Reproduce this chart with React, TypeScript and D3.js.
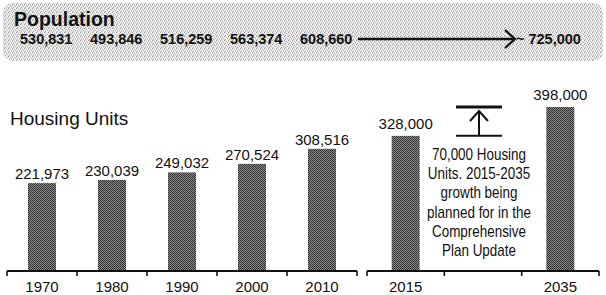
import * as d3 from 'd3';

// population row (top banner)
const popYears = ['1970', '1980', '1990', '2000', '2010'];
const popValues = [530831, 493846, 516259, 563374, 608660];
const popProjection = 725000;

// housing units, historic
const houseYears = ['1970', '1980', '1990', '2000', '2010'];
const houseValues = [221973, 230039, 249032, 270524, 308516];

// housing units, plan horizon
const planYears = ['2015', '2035'];
const planValues = [328000, 398000];
const noteLines = [
  '70,000 Housing',
  'Units. 2015-2035',
  'growth being',
  'planned for in the',
  'Comprehensive',
  'Plan Update',
];

const W = 606, H = 295;
const base = 271;
const fmt = d3.format(',');
const sans = 'Liberation Sans, Arial, sans-serif';

export default function App() {
  const xL = d3.scaleBand().domain(houseYears).range([7, 357]);
  const xR = d3.scaleBand().domain([planYears[0], 'gap', planYears[1]]).range([367, 599]);
  const yL = d3.scaleLinear().domain([0, 400000]).range([base, base - 158.4]);
  const yR = d3.scaleLinear().domain([0, 400000]).range([base, base - 164.8]);
  const barW = 28;

  const axis = (x: d3.ScaleBand<string>) => {
    const [a, b] = x.range();
    const edges = x.domain().map((d) => x(d) as number).concat([b]);
    return (
      <g>
        <line x1={a} x2={b} y1={base} y2={base} stroke="#111" strokeWidth={2} />
        {edges.map((e, i) => (
          <line key={i} x1={e} x2={e} y1={base} y2={base + 5} stroke="#111" strokeWidth={1.6} />
        ))}
      </g>
    );
  };

  const noteX = (xR('gap') as number) + xR.bandwidth() / 2 - 4;
  const topY = yR(planValues[1]);
  const botY = yR(planValues[0]);
  const popY = 44;
  const arrowStart = 358;
  const arrowTip = 515;

  return (
    <svg width={W} height={H} style={{ position: 'absolute', left: 0, top: 0, background: '#fff' }}>
      <defs>
        <pattern id="stipple" width="4" height="4" patternUnits="userSpaceOnUse">
          <rect width="4" height="4" fill="#e6e6e6" />
          <rect x="0" y="0" width="1" height="1" fill="#9a9a9a" />
          <rect x="2" y="1" width="1" height="1" fill="#b4b4b4" />
          <rect x="1" y="3" width="1" height="1" fill="#a2a2a2" />
          <rect x="3" y="2" width="1" height="1" fill="#c0c0c0" />
          <rect x="3" y="0" width="1" height="1" fill="#f8f8f8" />
          <rect x="1" y="1" width="1" height="1" fill="#f6f6f6" />
          <rect x="2" y="3" width="1" height="1" fill="#f6f6f6" />
        </pattern>
        <pattern id="dark" width="2" height="2" patternUnits="userSpaceOnUse">
          <rect width="2" height="2" fill="#8a8a8a" />
          <rect x="0" y="0" width="1" height="1" fill="#2a2a2a" />
          <rect x="1" y="1" width="1" height="1" fill="#383838" />
        </pattern>
      </defs>

      {/* population banner */}
      <rect x={3} y={3} width={600} height={58} rx={10} fill="url(#stipple)" />
      <text x={14} y={26} fontFamily={sans} fontWeight="bold" fontSize={19.5} fill="#111">Population</text>
      {popYears.map((yr, i) => (
        <text key={yr} x={(xL(yr) as number) + 13} y={popY} fontFamily={sans} fontWeight="bold" fontSize={14.5} fill="#111">
          {fmt(popValues[i])}
        </text>
      ))}
      <line x1={arrowStart} x2={arrowTip - 1} y1={popY - 5} y2={popY - 5} stroke="#111" strokeWidth={2.4} />
      <polyline points={`${arrowTip - 10},${popY - 14} ${arrowTip},${popY - 5} ${arrowTip - 10},${popY + 4}`} fill="none" stroke="#111" strokeWidth={2.2} />
      <text x={arrowTip + 1} y={popY} fontFamily={sans} fontWeight="bold" fontSize={14.5} fill="#111">
        {'~ ' + fmt(popProjection)}
      </text>

      {/* housing units */}
      <text x={10} y={125} fontFamily={sans} fontSize={19} fill="#111">Housing Units</text>

      {houseYears.map((yr, i) => {
        const cx = (xL(yr) as number) + xL.bandwidth() / 2;
        const v = houseValues[i];
        return (
          <g key={yr}>
            <rect x={cx - barW / 2} y={yL(v)} width={barW} height={base - yL(v)} fill="url(#dark)" />
            <text x={cx} y={yL(v) - 4} textAnchor="middle" fontFamily={sans} fontSize={15} fill="#111">{fmt(v)}</text>
            <text x={cx} y={292} textAnchor="middle" fontFamily={sans} fontSize={15} fill="#111">{yr}</text>
          </g>
        );
      })}
      {axis(xL)}

      {planYears.map((yr, i) => {
        const cx = (xR(yr) as number) + xR.bandwidth() / 2;
        const v = planValues[i];
        return (
          <g key={yr}>
            <rect x={cx - barW / 2} y={yR(v)} width={barW} height={base - yR(v)} fill="url(#dark)" />
            <text x={cx} y={yR(v) - 7} textAnchor="middle" fontFamily={sans} fontSize={15} fill="#111">{fmt(v)}</text>
            <text x={cx} y={292} textAnchor="middle" fontFamily={sans} fontSize={15} fill="#111">{yr}</text>
          </g>
        );
      })}
      {axis(xR)}

      {/* growth bracket */}
      <line x1={noteX - 23} x2={noteX + 23} y1={topY} y2={topY} stroke="#111" strokeWidth={3} />
      <line x1={noteX - 23} x2={noteX + 23} y1={botY} y2={botY} stroke="#111" strokeWidth={2} />
      <line x1={noteX} x2={noteX} y1={botY} y2={topY + 4} stroke="#111" strokeWidth={2} />
      <polyline points={`${noteX - 9},${topY + 14} ${noteX},${topY + 4} ${noteX + 9},${topY + 14}`} fill="none" stroke="#111" strokeWidth={2} />
      {noteLines.map((t, i) => (
        <text key={i} transform={`translate(${noteX},${160 + i * 19.2}) scale(0.84,1)`} textAnchor="middle" fontFamily={sans} fontSize={16} fill="#111">
          {t}
        </text>
      ))}
    </svg>
  );
}
